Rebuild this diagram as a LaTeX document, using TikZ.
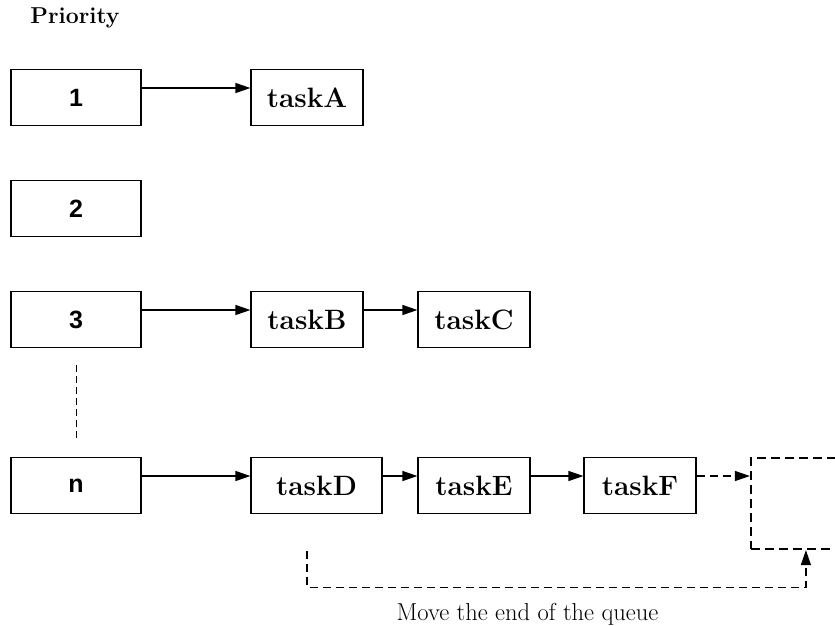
\documentclass[tikz,border=0pt]{standalone}
\usepackage{fontspec}
\newfontfamily\numfont{Liberation Sans}
\usetikzlibrary{arrows.meta}
\begin{document}
\begin{tikzpicture}[x=1pt,y=-1pt,
  prio/.style={draw,line width=1.2pt,minimum width=130pt,minimum height=56pt,inner sep=0pt,font=\numfont\fontsize{25}{29}\selectfont\bfseries},
  task/.style={draw,line width=1.2pt,minimum width=112pt,minimum height=56pt,inner sep=0pt,font=\fontsize{28}{32}\selectfont\bfseries},
  link/.style={line width=1.2pt,-{Triangle[length=15pt,width=10pt]}},
  dlink/.style={line width=1.2pt,dash pattern=on 8pt off 5pt,-{Triangle[length=15pt,width=10pt]}}]
\useasboundingbox (0,0) rectangle (835,625);
\clip (0,0) rectangle (835,625);
\node[font=\fontsize{23}{27}\selectfont\bfseries] (title) at (75,18) {Priority};
\node[prio] (p1) at (76,97.5) {1};
\node[prio] (p2) at (76,208.5) {2};
\node[prio] (p3) at (76,319.5) {3};
\node[prio] (pn) at (76,485.5) {n};
\node[task] (tA) at (307,97.5) {taskA};
\node[task] (tB) at (307,319.5) {taskB};
\node[task] (tC) at (474,319.5) {taskC};
\node[task,minimum width=131pt] (tD) at (316.5,485.5) {taskD};
\node[task] (tE) at (474,485.5) {taskE};
\node[task] (tF) at (640,485.5) {taskF};
\node[draw,line width=2.2pt,dash pattern=on 9pt off 5pt,minimum width=200pt,minimum height=91pt,inner sep=0pt] (slot) at (851,503.5) {};
\draw[link] ([yshift=9.5pt]p1.east) -- ([yshift=9.5pt]tA.west);
\draw[link] ([yshift=9.5pt]p3.east) -- ([yshift=9.5pt]tB.west);
\draw[link] ([yshift=9.5pt]tB.east) -- ([yshift=9.5pt]tC.west);
\draw[link] ([yshift=9.5pt]pn.east) -- ([yshift=9.5pt]tD.west);
\draw[link] ([yshift=9.5pt]tD.east) -- ([yshift=9.5pt]tE.west);
\draw[link] ([yshift=9.5pt]tE.east) -- ([yshift=9.5pt]tF.west);
\draw[dlink] ([yshift=9.5pt]tF.east) coordinate (fo) -- (fo -| slot.west);
\draw[line width=1pt,dash pattern=on 7pt off 4pt] ([yshift=-17pt]p3.south) -- ([yshift=19pt]pn.north);
\coordinate (bs) at ([xshift=-9.5pt,yshift=-37pt]tD.south);
\coordinate (be) at ([xshift=56pt]slot.south west);
\draw[dlink] (bs) -- ++(0,36) -| (be);
\node[anchor=base,font=\fontsize{24.5}{28}\selectfont] (note) at (527.5,620) {Move the end of the queue};
\end{tikzpicture}
\end{document}
